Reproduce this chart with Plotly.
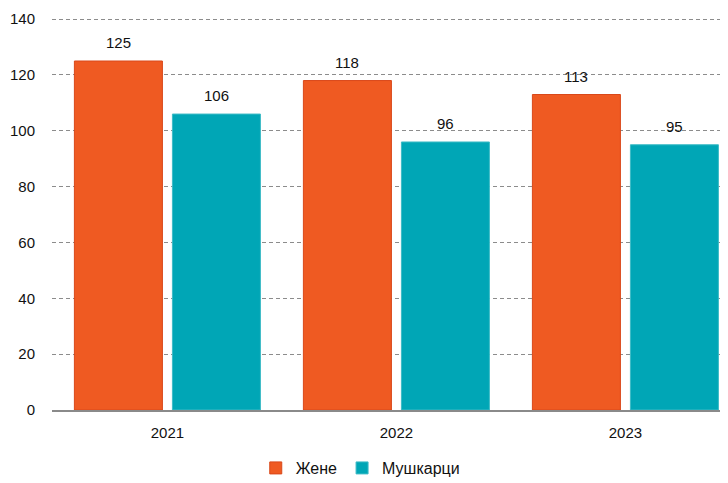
import plotly.graph_objects as go

years = ["2021", "2022", "2023"]
zene = [125, 118, 113]
muskarci = [106, 96, 95]
y_ticks = [0, 20, 40, 60, 80, 100, 120, 140]

orange = "#EF5A22"
teal = "#00A6B6"
label_font = dict(family="Liberation Sans, Arial, sans-serif", size=15, color="#111111")

fig = go.Figure()
fig.add_trace(go.Bar(
    x=years, y=zene, name="Жене",
    marker=dict(color=orange, line=dict(color="#D9481A", width=1)),
))
fig.add_trace(go.Bar(
    x=years, y=muskarci, name="Мушкарци",
    marker=dict(color=teal, line=dict(color="#3DBBC6", width=1)),
))

# value labels above bars (half a group slot left/right of the category centre)
half_slot = 49
for series, shift in ((zene, -half_slot), (muskarci, half_slot)):
    for idx, v in enumerate(series):
        fig.add_annotation(x=idx, y=v, xref="x", yref="y", text=str(v),
                           showarrow=False, xshift=shift, yshift=8,
                           yanchor="bottom", font=label_font)

fig.update_layout(
    width=720, height=475,
    margin=dict(l=44, r=0, t=10, b=73, autoexpand=False),
    paper_bgcolor="white", plot_bgcolor="white",
    font=dict(family="Liberation Sans, Arial, sans-serif", size=15, color="#111111"),
    barmode="group", bargap=0.144, bargroupgap=0.102,
    showlegend=True,
    legend=dict(orientation="h", x=0.456, xanchor="center", y=-0.148, yanchor="middle",
                font=dict(size=16), traceorder="normal", itemwidth=30),
)
fig.update_xaxes(
    type="category", range=[-0.504, 2.448], automargin=False,
    showgrid=False, showline=True, linecolor="#8a8a8a", linewidth=2,
    ticks="outside", ticklen=8, tickcolor="rgba(0,0,0,0)",
    tickfont=dict(size=15),
)
fig.update_yaxes(
    range=[0, 140.4], tickvals=y_ticks, automargin=False,
    showgrid=True, gridcolor="#8c8c8c", griddash="4px,3px", gridwidth=1,
    zeroline=False, showline=False,
    ticks="outside", ticklen=13, tickcolor="rgba(0,0,0,0)",
    tickfont=dict(size=15),
)

fig.write_html("out.html")
